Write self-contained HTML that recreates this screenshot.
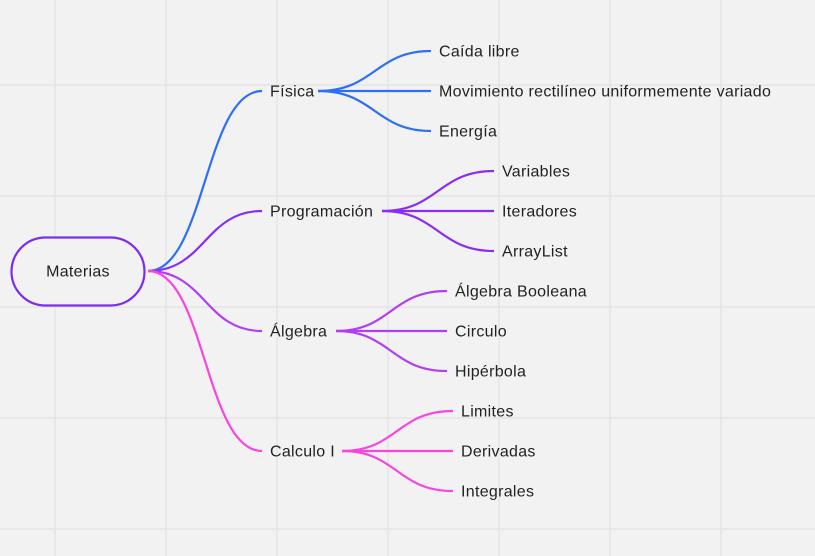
<!DOCTYPE html>
<html><head><meta charset="utf-8"><style>
html,body{margin:0;padding:0;background:#f2f2f2;}
svg{display:block;}
text{font-family:"Liberation Sans","DejaVu Sans",sans-serif;font-size:16px;letter-spacing:0.3px;fill:#222;dominant-baseline:central;}
</style></head><body>
<svg width="815" height="556" viewBox="0 0 815 556" xmlns="http://www.w3.org/2000/svg">
<g stroke="#e4e4e4" stroke-width="1.5">
<line x1="55" y1="0" x2="55" y2="556"/><line x1="166" y1="0" x2="166" y2="556"/><line x1="277" y1="0" x2="277" y2="556"/><line x1="388" y1="0" x2="388" y2="556"/><line x1="499" y1="0" x2="499" y2="556"/><line x1="610" y1="0" x2="610" y2="556"/><line x1="721" y1="0" x2="721" y2="556"/>
<line x1="0" y1="85" x2="815" y2="85"/><line x1="0" y1="196" x2="815" y2="196"/><line x1="0" y1="307" x2="815" y2="307"/><line x1="0" y1="418" x2="815" y2="418"/><line x1="0" y1="529" x2="815" y2="529"/>
</g>
<g fill="none" stroke-width="2.2">
<path d="M148 271 C205 271,205 91,262 91" stroke="#2d6ff7"/>
<path d="M148 271 C205 271,205 211,262 211" stroke="#8a2cf5"/>
<path d="M148 271 C205 271,205 331,262 331" stroke="#b13df5"/>
<path d="M148 271 C205 271,205 451,262 451" stroke="#f945e0"/>
<g stroke="#2d6ff7"><path d="M318 91 C375 91,375 51,431 51"/><path d="M318 91 L431 91"/><path d="M318 91 C375 91,375 131,431 131"/></g>
<g stroke="#8a2cf5"><path d="M382 211 C438 211,438 171,494 171"/><path d="M382 211 L494 211"/><path d="M382 211 C438 211,438 251,494 251"/></g>
<g stroke="#b13df5"><path d="M336 331 C391 331,391 291,447 291"/><path d="M336 331 L447 331"/><path d="M336 331 C391 331,391 371,447 371"/></g>
<g stroke="#f945e0"><path d="M342 451 C397 451,397 411,453 411"/><path d="M342 451 L453 451"/><path d="M342 451 C397 451,397 491,453 491"/></g>
</g>
<rect x="11.5" y="237.5" width="133" height="68" rx="34" fill="#f2f2f2" stroke="#7d2cf0" stroke-width="2.2"/>
<g transform="translate(0,1)">
<text x="78" y="271" text-anchor="middle">Materias</text>
<text x="270" y="91">Física</text>
<text x="270" y="211">Programación</text>
<text x="270" y="331">Álgebra</text>
<text x="270" y="451">Calculo I</text>
<text x="439" y="51">Caída libre</text>
<text x="439" y="91">Movimiento rectilíneo uniformemente variado</text>
<text x="439" y="131">Energía</text>
<text x="502" y="171">Variables</text>
<text x="502" y="211">Iteradores</text>
<text x="502" y="251">ArrayList</text>
<text x="455" y="291">Álgebra Booleana</text>
<text x="455" y="331">Circulo</text>
<text x="455" y="371">Hipérbola</text>
<text x="461" y="411">Limites</text>
<text x="461" y="451">Derivadas</text>
<text x="461" y="491">Integrales</text>
</g>
</svg>
</body></html>
